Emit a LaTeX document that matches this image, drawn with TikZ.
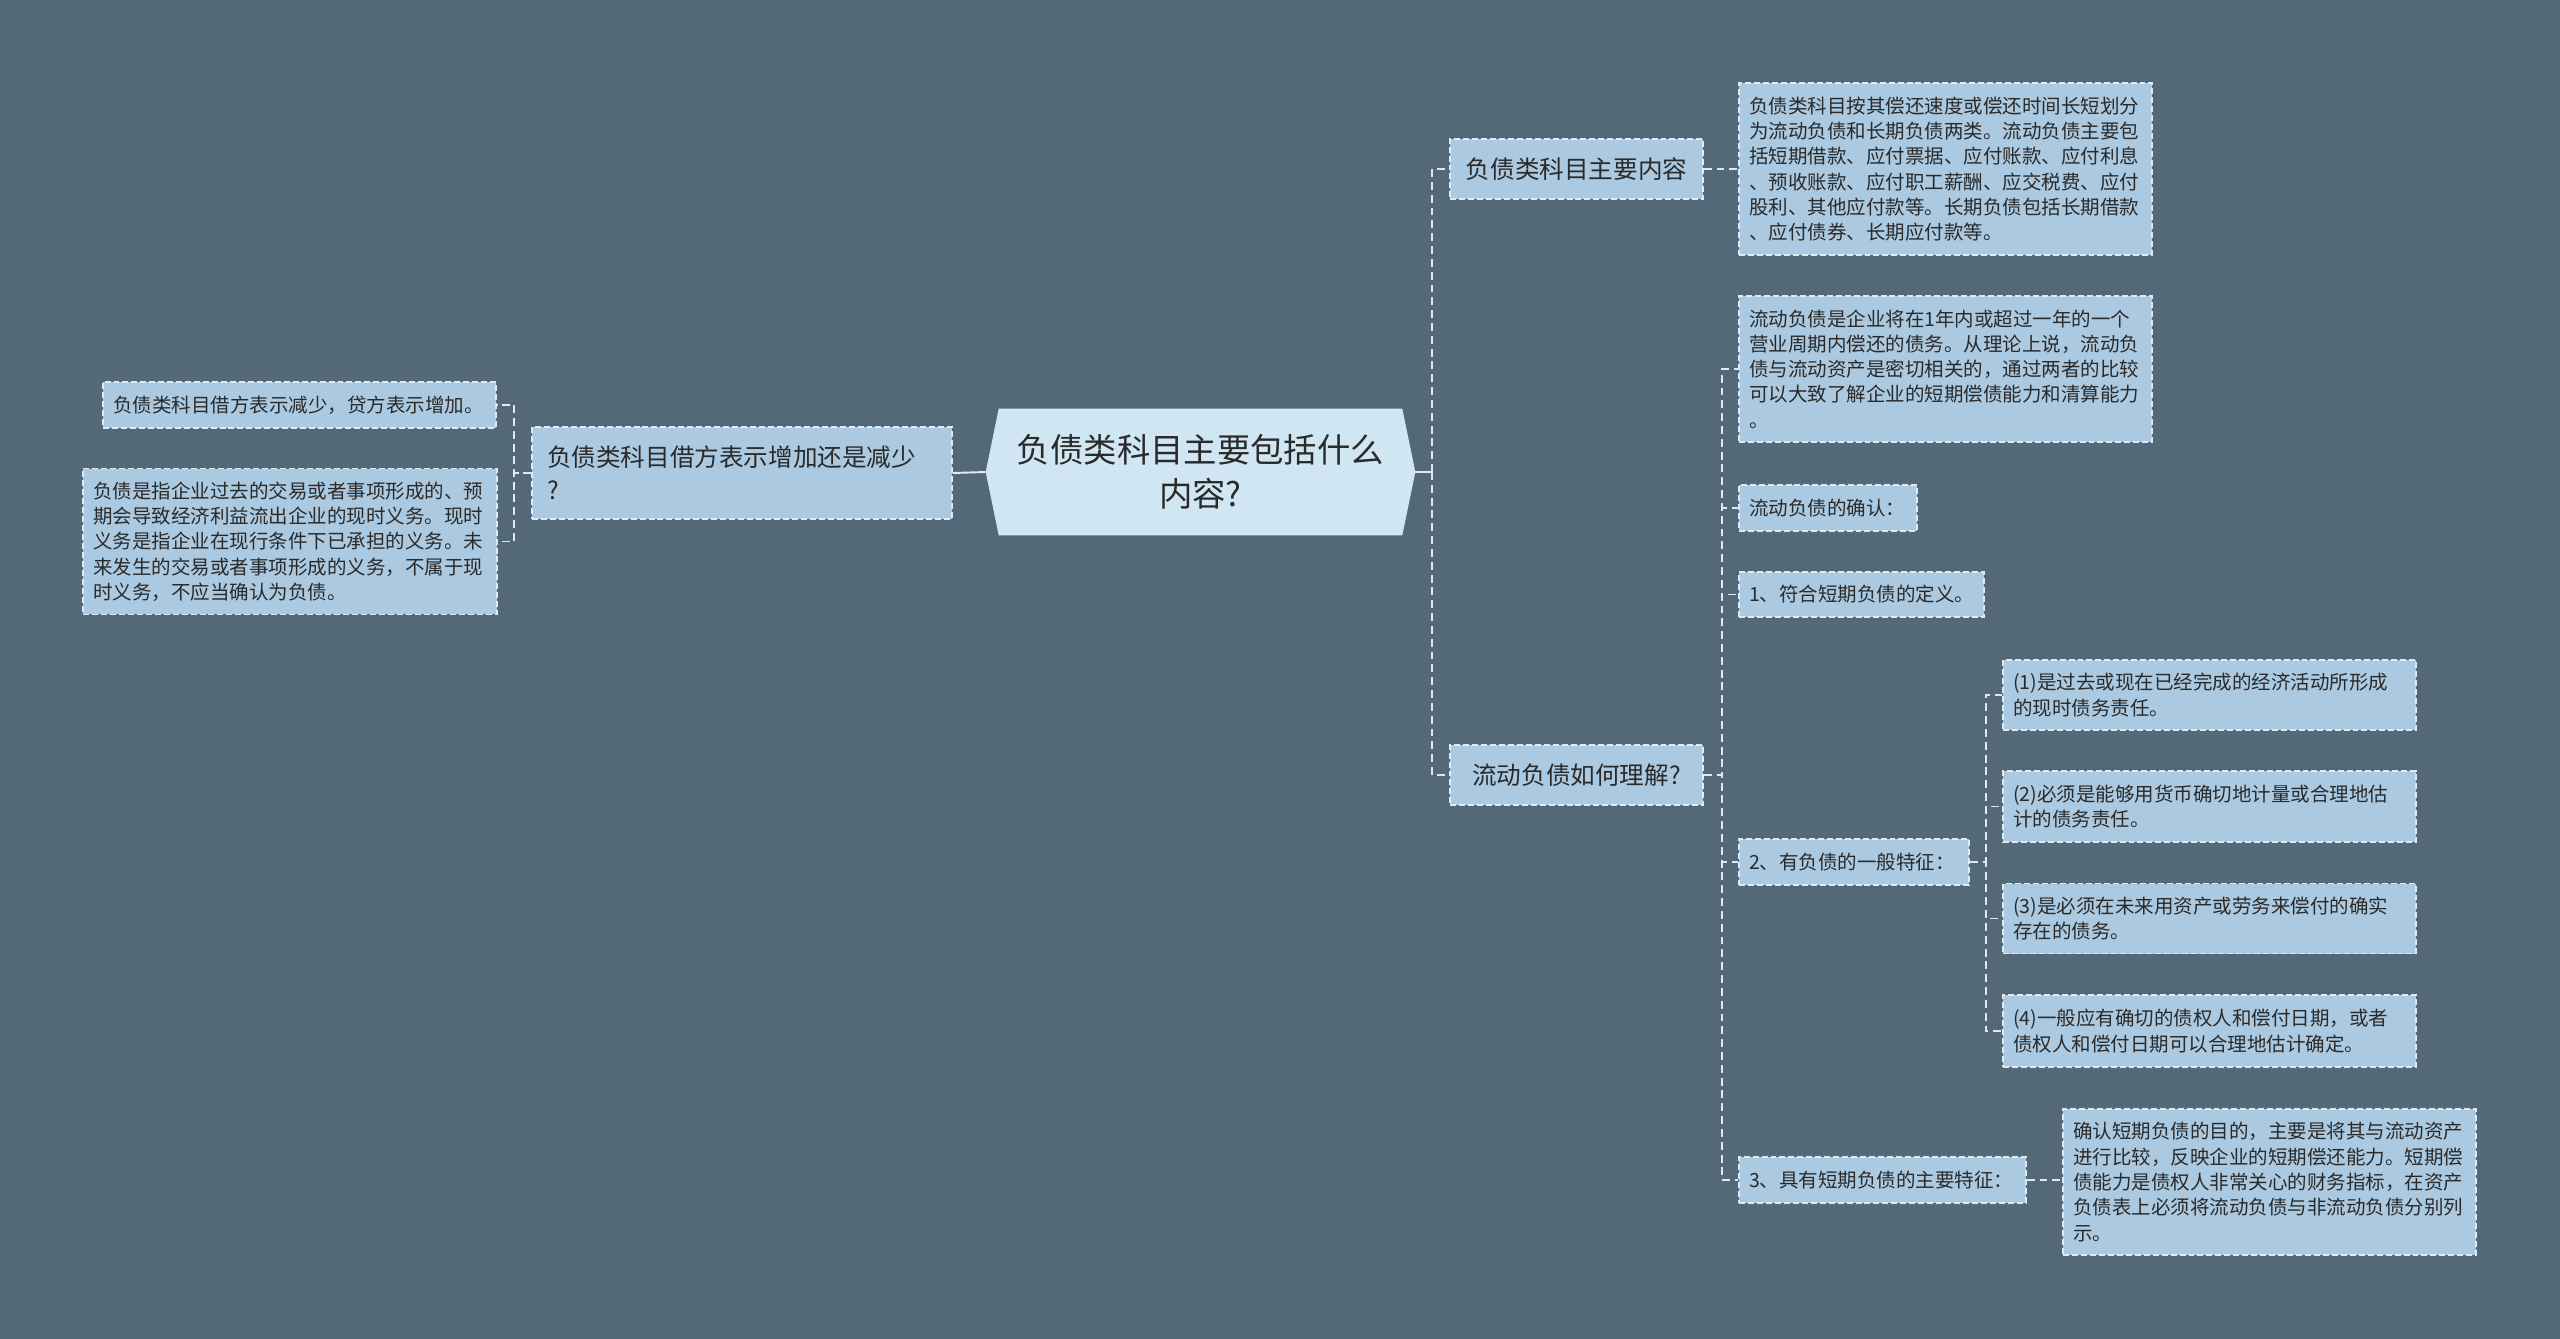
\documentclass[tikz,border=0pt]{standalone}
\usepackage{fontspec}
\setmainfont{Noto Sans CJK SC}
\usetikzlibrary{calc,backgrounds}
\definecolor{BgSlate}{HTML}{546977}
\definecolor{BoxBlue}{HTML}{ABC9E0}
\definecolor{RootBlue}{HTML}{D0E6F3}
\definecolor{EdgeLine}{HTML}{DCEAF3}
\definecolor{InkDark}{HTML}{2A2A2A}

\tikzset{
  box/.style={draw=EdgeLine, line width=0.8pt, dash pattern=on 3.4pt off 1.7pt,
    fill=BoxBlue, text=InkDark, inner xsep=0.2cm, inner ysep=0.1cm, align=left},
  leaf/.style={box, font=\fontsize{11.1}{14.4}\selectfont},
  topic/.style={box, inner xsep=0.3cm, font=\fontsize{14}{18.8}\selectfont},
  link/.style={EdgeLine, line width=1.1pt, dash pattern=on 4.5pt off 2.8pt},
  stub/.style={EdgeLine, line width=1.1pt},
}

\begin{document}
\begin{tikzpicture}[x=0.02cm, y=-0.02cm]

% canvas
\useasboundingbox (0,0) rectangle (2560,1339);
\begin{scope}[on background layer]
\fill[BgSlate] (0,0) rectangle (2560,1339);
\end{scope}

% centre topic
\node[text=InkDark, align=center, inner xsep=0.2cm, text width=7.66cm, minimum height=2.52cm,
  font=\fontsize{19}{25}\selectfont] (root) at (1200.5,472) {负债类科目主要包括什么\\内容?};
\coordinate (rootW) at ($(root.west)+(-13,0)$);
\coordinate (rootE) at ($(root.east)+(13,0)$);
\begin{scope}[on background layer]
\fill[RootBlue] (root.north west) -- (root.north east) -- (rootE) -- (root.south east)
  -- (root.south west) -- (rootW) -- cycle;
\end{scope}

% --- left branch ---
\node[topic, text width=7.8cm, minimum height=1.84cm] (debit) at (742,473) {负债类科目借方表示增加还是减少\\?};
\node[leaf, text width=7.46cm, minimum height=0.92cm] (debitA) at (299.5,405) {负债类科目借方表示减少，贷方表示增加。};
\node[leaf, text width=7.88cm, minimum height=2.92cm] (debitB) at (290,541.5) {负债是指企业过去的交易或者事项形成的、预\\期会导致经济利益流出企业的现时义务。现时\\义务是指企业在现行条件下已承担的义务。未\\来发生的交易或者事项形成的义务，不属于现\\时义务，不应当确认为负债。};

% --- right branch 1 ---
\node[topic, align=center, text width=4.46cm, minimum height=1.2cm] (content) at (1576.5,169) {负债类科目主要内容};
\node[leaf, text width=7.86cm, minimum height=3.44cm] (contentA) at (1945.5,169) {负债类科目按其偿还速度或偿还时间长短划分\\为流动负债和长期负债两类。流动负债主要包\\括短期借款、应付票据、应付账款、应付利息\\、预收账款、应付职工薪酬、应交税费、应付\\股利、其他应付款等。长期负债包括长期借款\\、应付债券、长期应付款等。};

% --- right branch 2 ---
\node[topic, align=center, text width=4.46cm, minimum height=1.2cm] (current) at (1576.5,775) {流动负债如何理解?};
\node[leaf, text width=7.86cm, minimum height=2.92cm] (currentA) at (1945.5,369) {流动负债是企业将在1年内或超过一年的一个\\营业周期内偿还的债务。从理论上说，流动负\\债与流动资产是密切相关的，通过两者的比较\\可以大致了解企业的短期偿债能力和清算能力\\。};
\node[leaf, text width=3.16cm, minimum height=0.92cm] (currentB) at (1828,508) {流动负债的确认：};
\node[leaf, text width=4.5cm, minimum height=0.9cm] (currentC) at (1861.5,594.5) {1、符合短期负债的定义。};
\node[leaf, text width=4.2cm, minimum height=0.92cm] (currentD) at (1854,862) {2、有负债的一般特征：};
\node[leaf, text width=5.34cm, minimum height=0.92cm] (currentE) at (1882.5,1180) {3、具有短期负债的主要特征：};
\node[leaf, text width=7.86cm, minimum height=2.92cm] (currentF) at (2269.5,1182) {确认短期负债的目的，主要是将其与流动资产\\进行比较，反映企业的短期偿还能力。短期偿\\债能力是债权人非常关心的财务指标，在资产\\负债表上必须将流动负债与非流动负债分别列\\示。};

% general features
\node[leaf, text width=7.86cm, minimum height=1.4cm] (featA) at (2209.5,695) {(1)是过去或现在已经完成的经济活动所形成\\的现时债务责任。};
\node[leaf, text width=7.86cm, minimum height=1.42cm] (featB) at (2209.5,806.5) {(2)必须是能够用货币确切地计量或合理地估\\计的债务责任。};
\node[leaf, text width=7.86cm, minimum height=1.4cm] (featC) at (2209.5,918.5) {(3)是必须在未来用资产或劳务来偿付的确实\\存在的债务。};
\node[leaf, text width=7.86cm, minimum height=1.44cm] (featD) at (2209.5,1031) {(4)一般应有确切的债权人和偿付日期，或者\\债权人和偿付日期可以合理地估计确定。};

% connectors
\draw[stub] (debit.east) -- (rootW);
\draw[link] (debit.west) -- ++(-17,0) |- (debitA.east);
\draw[link] (debit.west) -- ++(-17,0) |- (debitB.east);

\draw[stub] (rootE) -- ++(17,0) coordinate (rspine);
\draw[link] (rspine) |- (content.west);
\draw[link] (rspine) |- (current.west);
\draw[link] (content.east) -- (contentA.west);

\foreach \kid in {currentA,currentB,currentC,currentD,currentE}
  \draw[link] (current.east) -- ++(18,0) |- (\kid.west);
\draw[link] (currentE.east) -- (currentE.east -| currentF.west);

\foreach \kid in {featA,featB,featC,featD}
  \draw[link] (currentD.east) -- ++(16,0) |- (\kid.west);

\end{tikzpicture}
\end{document}
